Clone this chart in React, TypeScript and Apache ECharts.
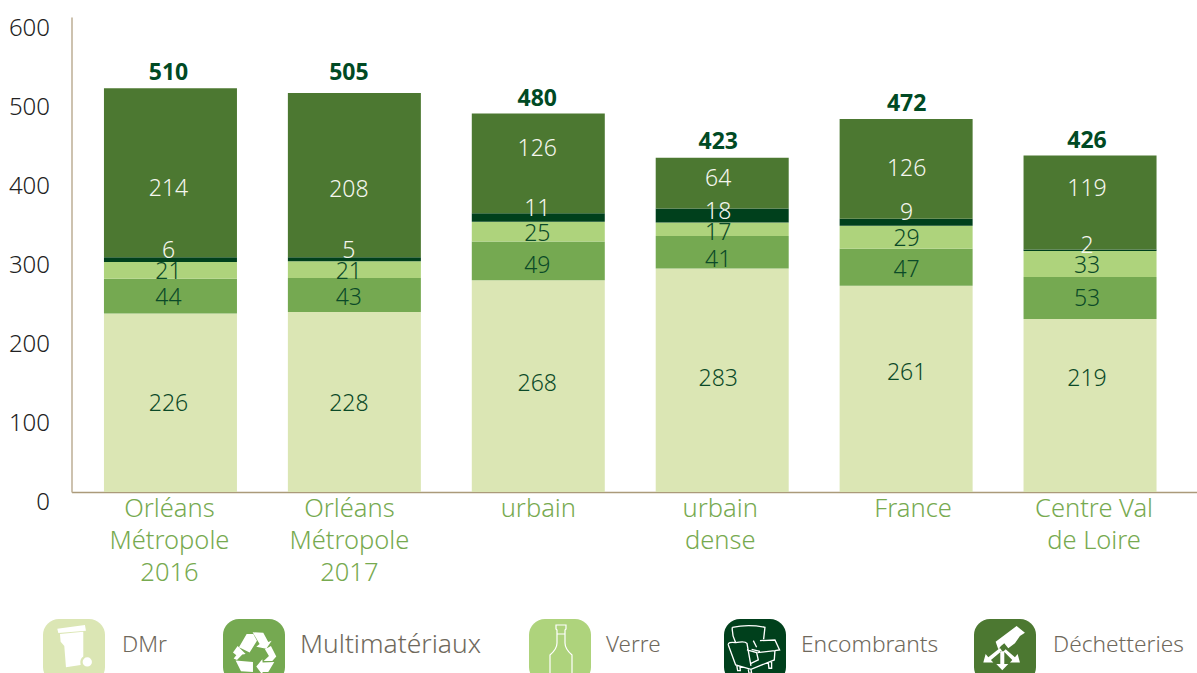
import React, { useEffect, useRef } from "react";
import * as echarts from "echarts";

const categories = ["Orléans\nMétropole\n2016", "Orléans\nMétropole\n2017", "urbain", "urbain\ndense", "France", "Centre Val\nde Loire"];
const dmr = [226, 228, 268, 283, 261, 219];
const multimateriaux = [44, 43, 49, 41, 47, 53];
const verre = [21, 21, 25, 17, 29, 33];
const encombrants = [6, 5, 11, 18, 9, 2];
const decheteries = [214, 208, 126, 64, 126, 119];
const totals = [510, 505, 480, 423, 472, 426];
const yTicks = [0, 100, 200, 300, 400, 500, 600];

const FONT = "'Noto Sans', sans-serif";
const DARK = "#0b4a28";
const LIGHT = "#f4f6ee";

const labelNudgeDmr = [-1, 0, -4, -3, -18, -28];
const labelNudgeMulti = [0, 1, 3, 6, 1, -1];
const labelNudgeVerre = [0, 0, 0, 2, 0, 0];
const labelNudgeEnc = [-11, -10, -10, -6, -11, -6];
const labelNudgeDech = [14, 13, -16, -6, -2, -15];
const totalNudge = [-3, -7, -1, -3, -2, -1];
const barLabelShift = [-2, -5.5, -1, -4, 0.5, -3];
const categoryNudge = [-1, -5, 0, -2, 7, 4];

const binPath = "M82 56 L165 45 L168 62 L85 69 Z M90 72 L160 65 L160 140 Q148 148 152 165 L108 172 L103 108 L92 95 Z M158 156 A14 14 0 1 0 186 156 A14 14 0 1 0 158 156 Z";
const recyclePath = "M72 112 L95 72 L115 72 L126 92 L104 128 Z M113 67 L145 68 L160 96 L170 92 L154 116 L124 110 L134 102 Z M150 118 L168 108 L184 140 L172 153 L146 153 L162 138 Z M124 170 L142 148 L143 158 L178 156 L160 186 L143 186 L142 194 Z M62 152 L114 156 L114 186 L78 184 Z M54 128 L68 108 L92 132 L82 134 L66 150 L56 146 L64 136 Z";
const chairPath = "M52 52 Q100 42 150 52 L146 88 M52 52 Q50 75 62 98 M40 105 Q38 95 62 98 Q90 92 96 100 L108 168 M40 105 L62 165 L108 178 L178 150 L180 122 M135 92 L180 90 L194 120 L180 122 L128 128 M96 120 L125 128 L130 150 L108 160 M115 92 L125 112 M110 118 L135 124 M65 165 L68 182 L76 182 L75 170 M100 178 L102 190 L110 190 L108 178 M160 158 L162 175 L170 175 L170 153";
const handPath = "M92 95 L155 48 L180 68 L165 78 L150 100 L130 115 L118 100 L108 108 L100 118 Z M105 114 L70 142 L62 132 L55 158 L85 158 L78 150 L111 122 Z M106 124 L118 124 L118 162 L130 162 L112 181 L94 162 L106 162 Z M122 118 L150 142 L158 132 L165 158 L135 158 L142 150 L116 124 Z";
const bottlePath = "M20 6 L30 6 L30 10 L29 11 L29 24 Q29 30 36 36 L36 70 L14 70 L14 36 Q21 30 21 24 L21 11 L20 10 Z M21 15 L29 15";

const legendItems = [
  { name: "DMr", color: "#dbe6b4", iconX: 43, textX: 122, size: 22.8 },
  { name: "Multimatériaux", color: "#75a951", iconX: 223, textX: 300, size: 26.4 },
  { name: "Verre", color: "#aed37c", iconX: 529, textX: 606, size: 22.4 },
  { name: "Encombrants", color: "#00401c", iconX: 724, textX: 801, size: 22.8 },
  { name: "Déchetteries", color: "#4c7831", iconX: 974, textX: 1053, size: 22.7 },
];

function reg(name: string, d: string) {
  echarts.graphic.registerShape(name, (echarts.graphic as any).extendPath(d, {}));
}
reg("rsBin", binPath);
reg("rsRecycle", recyclePath);
reg("rsChair", chairPath);
reg("rsHand", handPath);
reg("rsBottle", bottlePath);

function barSeries(name: string, data: number[], color: string, labelColor: string, nudges: number[]) {
  return {
    name,
    type: "bar",
    stack: "t",
    barWidth: 133,
    itemStyle: { color },
    data: data.map((value, i) => ({
      value,
      label: {
        show: true,
        position: "inside",
        offset: [barLabelShift[i], nudges[i]],
        color: labelColor,
        fontSize: 23,
        fontWeight: 300,
        fontFamily: FONT,
      },
    })),
  };
}

export default function App() {
  const ref = useRef<HTMLDivElement>(null);
  useEffect(() => {
    document.body.style.margin = "0";
    document.body.style.overflow = "hidden";
    const chart = echarts.init(ref.current!, undefined, { renderer: "svg" });
    const graphic: any[] = [
      { type: "line", z: 0, shape: { x1: 72, y1: 492.5, x2: 1197, y2: 492.5 }, style: { stroke: "#ab9a7a", lineWidth: 1.5 } },
    ];
    legendItems.forEach((l) => {
      graphic.push({ type: "rect", z: 5, shape: { x: l.iconX, y: 619, width: 62, height: 64, r: 16 }, style: { fill: l.color } });
      graphic.push({ type: "text", z: 5, x: l.textX, y: 643, style: { text: l.name, fill: "#6f695c", fontSize: l.size, fontWeight: 300, fontFamily: FONT, verticalAlign: "middle", align: "left" } });
    });
    graphic.push({ type: "rsBin", z: 6, x: 30, y: 610, scaleX: 1 / 3, scaleY: 1 / 3, style: { fill: "#ffffff" } });
    graphic.push({ type: "rsRecycle", z: 6, x: 215, y: 610, scaleX: 1 / 3, scaleY: 1 / 3, style: { fill: "#ffffff" } });
    graphic.push({ type: "rsBottle", z: 6, x: 536, y: 619, style: { fill: "none", stroke: "#ffffff", lineWidth: 1.2 } });
    graphic.push({ type: "rsChair", z: 6, x: 715, y: 610, scaleX: 1 / 3, scaleY: 1 / 3, style: { fill: "none", stroke: "#ffffff", lineWidth: 4 } });
    graphic.push({ type: "rsHand", z: 6, x: 965, y: 610, scaleX: 1 / 3, scaleY: 1 / 3, style: { fill: "#ffffff" } });

    chart.setOption({
      animation: false,
      grid: { left: 78.5, right: 15, top: 18, bottom: 181 },
      xAxis: {
        type: "category",
        data: categories.map((value, i) => {
          const n = categoryNudge[i] * 2;
          return { value, textStyle: { padding: n >= 0 ? [0, 0, 0, n] : [0, -n, 0, 0] } };
        }),
        axisLine: { show: false },
        axisTick: { show: false },
        axisLabel: { color: "#77aa50", fontSize: 25.5, fontWeight: 300, lineHeight: 32, fontFamily: FONT, margin: -1, interval: 0 },
      },
      yAxis: {
        type: "value",
        min: yTicks[0],
        max: yTicks[yTicks.length - 1],
        interval: 100,
        offset: 6.5,
        splitLine: { show: false },
        axisTick: { show: false },
        axisLine: { show: true, lineStyle: { color: "#bdae94", width: 1.5 } },
        axisLabel: { color: "#222222", fontSize: 24, fontWeight: 300, fontFamily: FONT, margin: 22, verticalAlign: "top", lineHeight: 16 },
      },
      series: [
        barSeries("DMr", dmr, "#dbe6b4", DARK, labelNudgeDmr),
        barSeries("Multimatériaux", multimateriaux, "#75a951", DARK, labelNudgeMulti),
        barSeries("Verre", verre, "#aed37c", DARK, labelNudgeVerre),
        barSeries("Encombrants", encombrants, "#00401c", LIGHT, labelNudgeEnc),
        barSeries("Déchetteries", decheteries, "#4c7831", LIGHT, labelNudgeDech),
        {
          name: "Total",
          type: "scatter",
          symbolSize: 1,
          itemStyle: { color: "transparent", opacity: 1 },
          z: 5,
          data: totals.map((value, i) => ({
            value,
            label: { show: true, position: "top", distance: 3, offset: [barLabelShift[i], totalNudge[i]], color: "#004a24", fontSize: 23, fontWeight: "bold", fontFamily: FONT },
          })),
        },
      ],
      graphic,
    });
    return () => chart.dispose();
  }, []);
  return <div ref={ref} style={{ width: 1197, height: 673 }} />;
}
